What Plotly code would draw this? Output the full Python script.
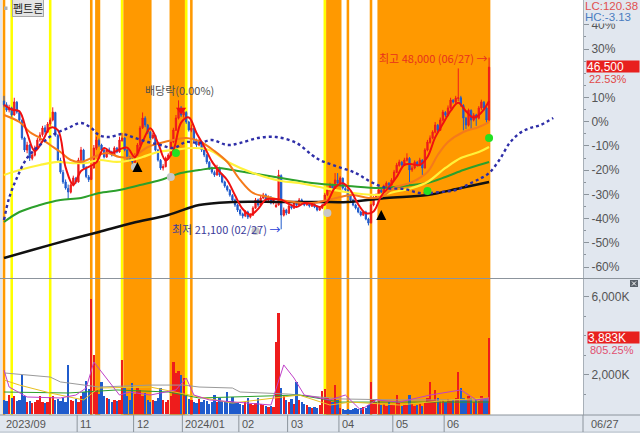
import plotly.graph_objects as go

# ---------------- data ----------------
BASE = 37950  # 0% reference price (46,500 = +22.53%)

# trading-day index: 0 = 2023-09-14 ... 189 = 2024-06-27
month_labels = ["2023/09", "11", "12", "2024/01", "02", "03", "04", "05", "06"]
month_start_idx = [0, 29, 51, 70, 92, 111, 131, 152, 172]
last_date_label = "06/27"

open_ = [
    41200, 40600, 39800, 40100, 39000, 41000, 39400, 38200, 35400, 33500,
    34300, 32200, 32700, 33800, 35100, 35900, 37000, 36300, 37600, 38200,
    39400, 35800, 31900, 30000, 28500, 27500, 26900, 28000, 29100, 28500,
    31900, 33500, 30700, 29300, 28900, 30700, 33800, 35000, 34300, 33500,
    32400, 33500, 33200, 32700, 33800, 33200, 35000, 35400, 33500, 32300,
    31900, 31600, 32700, 34300, 37000, 38500, 37400, 36300, 35400, 35800,
    33500, 31900, 30700, 30900, 32200, 32700, 34800, 36600, 38500, 40100,
    39000, 39400, 37900, 36600, 36900, 35000, 34300, 34700, 33500, 32700,
    31600, 30700, 30000, 29600, 30700, 29600, 28500, 27800, 27200, 26400,
    25700, 24900, 24100, 23500, 23200, 23800, 23000, 23300, 24400, 25700,
    24900, 26000, 26500, 25700, 26100, 25200, 24600, 24900, 29500, 23300,
    24100, 23600, 24700, 24400, 25200, 24900, 25700, 25300, 24900, 25200,
    24700, 25000, 24600, 24100, 24400, 24900, 26500, 27200, 28000, 27500,
    28800, 28300, 29100, 27500, 27200, 26300, 25700, 24900, 24400, 23800,
    23300, 23800, 22700, 22100, 24900, 26000, 26500, 27200, 26900, 27800,
    28300, 28000, 28800, 30000, 31100, 31600, 31100, 31900, 32200, 30400,
    30700, 31600, 31100, 31900, 30700, 33500, 34700, 35400, 36300, 37400,
    36600, 38200, 39400, 38900, 40100, 41300, 41000, 41600, 41700, 40500,
    38500, 37400, 39700, 38200, 39000, 38500, 40100, 41000, 40100, 38200,
]
high = [
    42000, 41000, 40600, 40300, 41700, 41200, 39600, 38300, 35600, 34800,
    34400, 33300, 34200, 35400, 36300, 37300, 37400, 37900, 38600, 40200,
    39500, 36000, 32300, 30400, 28900, 28100, 28300, 29500, 29300, 32300,
    34000, 33700, 31000, 29600, 31000, 34300, 35600, 35300, 34500, 33700,
    33800, 33900, 33400, 34100, 34000, 35600, 36200, 35500, 33700, 32600,
    32200, 33000, 34600, 37300, 39400, 38800, 37600, 36500, 36200, 35900,
    33700, 32100, 31300, 32500, 33000, 35000, 37000, 39000, 41300, 40400,
    39900, 39600, 38100, 37500, 37000, 35300, 35200, 34900, 33800, 32900,
    31800, 30900, 30300, 31200, 30900, 29800, 28700, 28000, 27400, 26600,
    25900, 25100, 24300, 23700, 24100, 24000, 23600, 24700, 26000, 25900,
    26300, 26800, 26700, 26400, 26300, 25900, 25200, 30400, 29700, 24500,
    24300, 25000, 24900, 25500, 25400, 26000, 25900, 25500, 25500, 25400,
    25300, 25200, 24800, 24700, 25100, 26800, 27500, 28400, 28200, 29900,
    29900, 29400, 29200, 27800, 27400, 26500, 25900, 25100, 24600, 24000,
    24000, 24000, 22900, 25100, 26300, 26700, 27500, 27400, 28100, 28600,
    28500, 29100, 30400, 31500, 32000, 31800, 32300, 33000, 32400, 31000,
    31900, 31800, 32300, 32100, 33800, 35100, 35800, 36600, 37900, 37600,
    38600, 39800, 39600, 40500, 41700, 41500, 42000, 46300, 42000, 40700,
    38700, 40000, 39900, 39300, 39200, 40400, 41400, 41200, 40300, 48000,
]
low = [
    40200, 39500, 39400, 38700, 38900, 39200, 37900, 35100, 33200, 33000,
    31800, 31900, 32500, 33600, 34800, 35600, 36000, 36200, 37300, 38000,
    35600, 31600, 29800, 28200, 27300, 25700, 26700, 27800, 28200, 28400,
    31600, 30500, 29100, 28500, 28800, 30600, 33500, 34000, 33200, 32200,
    32300, 32900, 32500, 32600, 33000, 33100, 34800, 33300, 32000, 31700,
    31300, 31500, 32600, 34200, 36800, 37100, 36000, 35100, 35200, 33300,
    31700, 30400, 30300, 30800, 32000, 32600, 34600, 36500, 38300, 38700,
    38600, 37600, 36400, 36300, 34800, 34000, 34100, 33200, 32400, 31300,
    30400, 29800, 29300, 29500, 29300, 28300, 27600, 27000, 26200, 25400,
    24600, 23800, 23200, 22800, 23000, 22700, 22800, 23200, 24300, 24600,
    24800, 25800, 25400, 25500, 25000, 25000, 24500, 24800, 21100, 23100,
    23300, 23500, 24200, 24300, 24600, 24800, 25100, 24700, 24800, 24500,
    24600, 24400, 23900, 24000, 24300, 24800, 26300, 27000, 27300, 27400,
    28200, 28100, 27300, 27000, 26100, 25500, 24700, 24200, 23600, 23100,
    23200, 22500, 21700, 22000, 24700, 25700, 26300, 26700, 26800, 27600,
    27800, 27900, 28700, 29900, 30900, 30900, 31000, 31700, 28000, 30100,
    30500, 30900, 31000, 29600, 30600, 33300, 34500, 35200, 36100, 36300,
    36500, 38000, 38700, 38800, 39900, 40800, 40800, 41200, 40300, 36600,
    36800, 37200, 36800, 38000, 37300, 38300, 39800, 39700, 37800, 38000,
]
close = [
    40570, 39780, 40100, 39000, 41050, 39470, 38220, 35400, 33520, 34300,
    32270, 32730, 33840, 35080, 35870, 36960, 36340, 37590, 38220, 39470,
    35870, 31950, 30070, 28500, 27560, 26940, 28040, 29140, 28500, 31950,
    33520, 30720, 29360, 28870, 30720, 33840, 35080, 34300, 33520, 32430,
    33520, 33200, 32730, 33840, 33200, 35080, 35400, 33520, 32270, 31950,
    31640, 32730, 34300, 36960, 38530, 37430, 36340, 35400, 35870, 33520,
    31950, 30700, 30920, 32270, 32730, 34770, 36650, 38530, 40100, 38990,
    39470, 37900, 36650, 36960, 35080, 34300, 34770, 33520, 32730, 31640,
    30700, 30070, 29600, 30700, 29600, 28500, 27870, 27250, 26470, 25680,
    24900, 24110, 23490, 23170, 23800, 23010, 23330, 24430, 25680, 24900,
    26000, 26470, 25680, 26160, 25210, 25680, 24900, 29600, 23330, 24110,
    23640, 24740, 24430, 25210, 24900, 25680, 25370, 24900, 25210, 24740,
    25050, 24580, 24110, 24430, 24900, 26470, 27250, 28040, 27560, 28820,
    28350, 29140, 27560, 27250, 26310, 25680, 24900, 24430, 23800, 23330,
    23800, 22700, 22070, 24900, 26000, 26470, 27250, 26940, 27870, 28350,
    28040, 28820, 30070, 31170, 31640, 31170, 31950, 32270, 30380, 30700,
    31640, 31170, 31950, 30700, 33520, 34770, 35400, 36340, 37430, 36650,
    38220, 39470, 38990, 40100, 41350, 41050, 41660, 41700, 40600, 38530,
    37430, 39780, 38220, 38990, 38530, 40100, 41050, 40100, 38220, 46500,
]
volume_k = [
    700, 650, 950, 800, 900, 650, 700, 2000, 900, 600,
    650, 550, 600, 700, 900, 600, 550, 600, 850, 900,
    700, 750, 650, 800, 600, 2500, 700, 650, 750, 600,
    900, 1100, 1700, 1300, 5900, 3000, 1250, 1000, 1650, 900,
    800, 750, 600, 700, 650, 700, 2750, 1400, 900, 700,
    1600, 1000, 1350, 1250, 900, 1050, 700, 600, 700, 650,
    800, 1350, 700, 600, 700, 900, 2650, 2100, 2200, 2000,
    1850, 900, 750, 700, 600, 550, 750, 600, 700, 650,
    500, 600, 950, 600, 800, 650, 600, 1100, 650, 850,
    600, 550, 500, 450, 600, 800, 500, 450, 550, 800,
    500, 450, 400, 350, 400, 350, 3680, 5160, 1330, 900,
    700, 600, 750, 500, 1640, 700, 600, 500, 450, 350,
    300, 350, 300, 450, 1200, 1300, 800, 700, 600, 1480,
    700, 300, 250, 200, 250, 200, 250, 300, 250, 300,
    350, 300, 450, 1640, 700, 600, 650, 450, 500, 400,
    600, 500, 450, 970, 550, 400, 500, 450, 970, 500,
    400, 450, 500, 400, 600, 800, 1640, 700, 1230, 800,
    650, 700, 600, 750, 650, 700, 800, 2150, 1330, 800,
    700, 900, 800, 600, 700, 650, 900, 750, 800, 3883,
]

# price moving averages (read at sampled days)
ma5_idx = list(range(0, 190, 3))
ma5 = [40600, 39860, 39570, 36180, 33330, 34900, 37000, 36620, 30790, 28040,
       30230, 30880, 31570, 33830, 33080, 33610, 33890, 32420, 34830, 36930,
       34620, 31870, 33470, 37810, 38620, 36180, 34080, 31730, 30130, 28780,
       26430, 24270, 23360, 24270, 25750, 25840, 25740, 25080, 24580, 25210,
       25050, 24580, 25430, 27630, 28290, 27190, 25020, 23610, 23890, 26310,
       27690, 29290, 31200, 31290, 31170, 32420, 35490, 37620, 39630, 40930,
       39580, 38590, 39380, 41190]
ma20_idx = [0, 6, 10, 14, 18, 22, 26, 30, 35, 40, 45, 50, 56, 61, 66, 71, 76, 82, 87,
            92, 97, 103, 108, 113, 120, 126, 131, 136, 142, 147, 152, 159, 165, 169,
            173, 179, 185, 189]
ma20 = [39000, 37900, 36340, 35400, 34300, 33200, 31950, 31640, 32420, 33050,
        32420, 32420, 33990, 34610, 35080, 35400, 34930, 33360, 31640, 28820,
        26780, 26150, 25680, 25370, 25210, 25680, 26150, 26470, 26000, 26150,
        27560, 28500, 30070, 32730, 34770, 36340, 37120, 37900]
ma60_idx = [0, 6, 14, 21, 26, 32, 37, 44, 50, 54, 60, 66, 74, 80, 88, 97, 108, 115,
            123, 133, 146, 152, 159, 165, 172, 178, 185, 189]
ma60 = [29600, 30380, 31170, 31640, 31480, 31480, 31950, 31640, 31950, 32420,
        33200, 33520, 33830, 33520, 31480, 29910, 28660, 28350, 27720, 26940,
        26470, 26940, 27560, 28500, 30700, 32260, 33200, 33990]
ma120_idx = [0, 6, 14, 22, 30, 37, 45, 53, 61, 69, 76, 83, 89, 96, 108, 120, 134,
             147, 159, 165, 172, 179, 185, 189]
ma120 = [22230, 23800, 24900, 25680, 26000, 26780, 27250, 28030, 28820, 29910,
         30380, 30700, 30380, 29910, 29130, 28350, 27880, 27560, 28030, 28350,
         29290, 30380, 31170, 31640]
ma240_idx = [0, 11, 25, 37, 50, 64, 76, 89, 108, 123, 134, 149, 165, 178, 189]
ma240 = [16590, 17850, 19410, 20670, 22080, 23330, 24900, 25370, 25370, 25370,
         25370, 25990, 26470, 27560, 28500]
# leading span (dotted, projected 25 days past the last candle)
span_idx = [0, 2, 5, 9, 14, 19, 25, 30, 34, 37, 41, 46, 50, 56, 61, 66, 71, 76, 81,
            87, 92, 99, 106, 114, 120, 123, 128, 137, 143, 149, 156, 162, 170, 176,
            182, 186, 189, 193, 197, 201, 205, 209, 214]
span = [22550, 26000, 29130, 32260, 34300, 35870, 36960, 37750, 36960, 35870,
        35550, 36020, 35550, 34770, 34300, 33830, 34770, 34610, 35080, 34300,
        34610, 35400, 35550, 34610, 32730, 31950, 31170, 29910, 28500, 27560,
        27400, 26780, 26940, 27250, 28350, 29130, 29910, 31950, 34610, 36180,
        36960, 37430, 38530]

# volume moving averages (K, sampled)
vma5_idx = [0, 2, 9, 22, 28, 32, 35, 39, 45, 49, 57, 67, 71, 74, 80, 104, 109, 113,
            117, 127, 133, 139, 145, 154, 166, 178, 184, 189]
vma5 = [2250, 1380, 870, 820, 970, 1330, 2660, 1990, 970, 1125, 970, 1230, 1840,
        970, 720, 460, 2510, 1840, 970, 720, 970, 200, 720, 610, 970, 1230, 720, 820]
vma20_idx = [0, 6, 18, 31, 37, 57, 76, 89, 115, 127, 135, 154, 174, 189]
vma20 = [1740, 1480, 1075, 720, 1330, 1380, 870, 560, 970, 460, 610, 460, 720, 820]
vma60_idx = [0, 25, 44, 64, 76, 115, 131, 154, 189]
vma60 = [1125, 1075, 1230, 1125, 820, 970, 610, 610, 610]
vma120_idx = [0, 18, 22, 37, 57, 70, 76, 89, 92, 111, 123, 131, 154, 189]
vma120 = [2100, 1890, 1640, 1380, 1480, 1480, 1380, 1330, 1125, 1020, 870, 770, 720, 720]

# signal markers
gray_idx, gray_price = [51, 65, 98, 126], [30850, 29290, 20820, 23640]
black_idx, black_price = [52, 147], [31640, 24110]
green_idx, green_price = [67, 165, 189], [33050, 27090, 35400]
div_idx, div_price = [69], [39780]

# background highlight bands: (first day, last day, kind)
bands = [(0, 0, "o"), (3, 3, "y"), (18, 18, "y"), (34, 34, "o"), (36, 37, "o"),
         (46, 46, "y"), (47, 57, "o"), (65, 70, "o"), (71, 71, "y"), (73, 73, "o"),
         (125, 125, "y"), (126, 131, "o"), (134, 134, "o"), (143, 143, "o"),
         (146, 189, "o")]

pct_labels = [40, 30, 10, 0, -10, -20, -30, -40, -50, -60]   # 20% is hidden under the price tag
pct_minor = [35, 25, 20, 15, 5, -5, -15, -25, -35, -45, -55, -65]
vol_ticks = [2000, 6000]
vol_tick_text = ["2,000K", "6,000K"]

# ---------------- styling ----------------
RED = "#EE1C1C"
BLUE = "#1F5BCC"
ORANGE_BG = "#FF9900"
YELLOW_BG = "#FFFF00"
PANEL = "#E1E7EF"
KFONT = "Noto Sans CJK KR, Noto Sans, sans-serif"
NFONT = "Liberation Sans, Arial, sans-serif"

XR = [-0.78, 225.6]
PR = [13459, 57019]
VR = [-51, 6905]
P_DOM = [0.3301, 1.0]
V_DOM = [0.0, 0.3277]


def xp(v):
    return (v - XR[0]) / (XR[1] - XR[0])


def py(p):
    return (415 - p) / 415


def px(p):
    return (p - 2) / 581


idx = list(range(len(close)))
up = [c >= o for o, c in zip(open_, close)]

fig = go.Figure()

# bands
shapes = []
for a, b, k in bands:
    col = ORANGE_BG if k == "o" else YELLOW_BG
    for yr in ("y domain", "y2 domain"):
        shapes.append(dict(type="rect", xref="x", yref=yr, x0=a - 0.5, x1=b + 0.5,
                           y0=0, y1=1, fillcolor=col, line=dict(width=0), layer="below"))

# candles
fig.add_trace(go.Candlestick(
    x=idx, open=open_, high=high, low=low, close=close, xaxis="x", yaxis="y",
    increasing=dict(line=dict(color=RED, width=1), fillcolor=RED),
    decreasing=dict(line=dict(color=BLUE, width=1), fillcolor=BLUE),
    whiskerwidth=0, showlegend=False, hoverinfo="skip"))

# moving averages
fig.add_trace(go.Scatter(x=ma240_idx, y=ma240, mode="lines", line=dict(color="#111111", width=2.5, shape="spline"), xaxis="x", yaxis="y"))
fig.add_trace(go.Scatter(x=ma120_idx, y=ma120, mode="lines", line=dict(color="#2CA02C", width=2, shape="spline"), xaxis="x", yaxis="y"))
fig.add_trace(go.Scatter(x=ma60_idx, y=ma60, mode="lines", line=dict(color="#FFF23A", width=2.2, shape="spline"), xaxis="x", yaxis="y"))
fig.add_trace(go.Scatter(x=ma20_idx, y=ma20, mode="lines", line=dict(color="#F57A1A", width=2, shape="spline"), xaxis="x", yaxis="y"))
fig.add_trace(go.Scatter(x=ma5_idx, y=ma5, mode="lines", line=dict(color="#F01010", width=2, shape="spline"), xaxis="x", yaxis="y"))
fig.add_trace(go.Scatter(x=span_idx, y=span, mode="lines", line=dict(color="#2E2EA8", width=2.4, dash="dot", shape="spline"), xaxis="x", yaxis="y"))

# signal markers
fig.add_trace(go.Scatter(x=gray_idx, y=gray_price, mode="markers", marker=dict(color="#C8C8C8", size=8, symbol="circle"), xaxis="x", yaxis="y"))
fig.add_trace(go.Scatter(x=black_idx, y=black_price, mode="markers", marker=dict(color="#000000", size=10, symbol="arrow-up"), xaxis="x", yaxis="y"))
fig.add_trace(go.Scatter(x=green_idx, y=green_price, mode="markers", marker=dict(color="#22E022", size=8, symbol="circle"), xaxis="x", yaxis="y"))
fig.add_trace(go.Scatter(x=div_idx, y=div_price, mode="markers", marker=dict(color="#F01010", size=9, symbol="triangle-down"), xaxis="x", yaxis="y"))

# volume
fig.add_trace(go.Bar(x=idx, y=volume_k, marker=dict(color=[RED if u else BLUE for u in up], line=dict(width=0)),
                     width=0.9, xaxis="x2", yaxis="y2", hoverinfo="skip"))
fig.add_trace(go.Scatter(x=vma120_idx, y=vma120, mode="lines", line=dict(color="#9A9A9A", width=1), xaxis="x2", yaxis="y2"))
fig.add_trace(go.Scatter(x=vma60_idx, y=vma60, mode="lines", line=dict(color="#2CA02C", width=1), xaxis="x2", yaxis="y2"))
fig.add_trace(go.Scatter(x=vma20_idx, y=vma20, mode="lines", line=dict(color="#E8C020", width=1), xaxis="x2", yaxis="y2"))
fig.add_trace(go.Scatter(x=vma5_idx, y=vma5, mode="lines", line=dict(color="#C040C8", width=1), xaxis="x2", yaxis="y2"))

# panel separator and bottom label row
LINE = "#8C949C"
shapes.append(dict(type="line", xref="paper", yref="paper", x0=-0.01, x1=1.2, y0=py(278.5), y1=py(278.5), line=dict(color=LINE, width=1)))
shapes.append(dict(type="line", xref="paper", yref="paper", x0=-0.01, x1=1.2, y0=0, y1=0, line=dict(color=LINE, width=1)))
shapes.append(dict(type="line", xref="paper", yref="paper", x0=-0.01, x1=1.2, y0=py(432), y1=py(432), line=dict(color="#B8C0C8", width=1)))
for s in month_start_idx[1:]:
    shapes.append(dict(type="line", xref="paper", yref="paper", x0=xp(s - 0.5), x1=xp(s - 0.5), y0=0, y1=py(432), line=dict(color=LINE, width=1)))
shapes.append(dict(type="line", xref="paper", yref="paper", x0=1, x1=1, y0=0, y1=py(432), line=dict(color=LINE, width=1)))
# little icon left of stock name
shapes.append(dict(type="rect", xref="paper", yref="paper", x0=px(4), x1=px(7.5), y0=py(10), y1=py(6.5), fillcolor="#B0B0B0", line=dict(width=0)))
# close icon of volume pane
shapes.append(dict(type="rect", xref="paper", yref="paper", x0=px(630), x1=px(638), y0=py(287), y1=py(280), fillcolor="#59616A", line=dict(width=0)))
shapes.append(dict(type="line", xref="paper", yref="paper", x0=px(632), x1=px(636), y0=py(285.5), y1=py(281.5), line=dict(color="white", width=1)))
shapes.append(dict(type="line", xref="paper", yref="paper", x0=px(632), x1=px(636), y0=py(281.5), y1=py(285.5), line=dict(color="white", width=1)))

ann = []
for lab, s in zip(month_labels, month_start_idx):
    ann.append(dict(text=lab, xref="x", yref="paper", x=s - 0.5, y=py(424), xanchor="left", yanchor="middle",
                    xshift=1, showarrow=False, font=dict(family=NFONT, size=11, color="#555")))
ann.append(dict(text=last_date_label, xref="paper", yref="paper", x=1, y=py(424), xanchor="left", yanchor="middle",
                xshift=6, showarrow=False, font=dict(family=NFONT, size=11, color="#555")))

# stock name
ann.append(dict(text="펩트론", xref="paper", yref="paper", x=px(12), y=py(8.5), xanchor="left", yanchor="middle",
                showarrow=False, bgcolor="#E4E4E4", bordercolor="#A8A8A8", borderwidth=1, borderpad=0,
                font=dict(family=KFONT, size=11, color="#222")))

# chart notes
ann.append(dict(text="배당락(0.00%)", xref="x", yref="y", x=div_idx[0] - 0.5, y=42900, xanchor="center", yanchor="middle",
                showarrow=False, font=dict(family=KFONT, size=11, color="#505050")))
ann.append(dict(text="최고 48,000 (06/27) →", xref="x", yref="y", x=189, y=max(high), xanchor="right", yanchor="middle",
                showarrow=False, font=dict(family=KFONT, size=11, color="#E8301E")))
ann.append(dict(text="최저 21,100 (02/27) <span style='color:#1C3CD8'>→</span>", xref="x", yref="y", x=108.4, y=min(low),
                xanchor="right", yanchor="middle", showarrow=False, font=dict(family=KFONT, size=11, color="#3A3A9A")))

# right panel labels
ann.append(dict(text="LC:120.38", xref="paper", yref="paper", x=1, xshift=1, y=py(6), xanchor="left", yanchor="middle",
                showarrow=False, borderpad=0, font=dict(family=NFONT, size=11.5, color="#E05050")))
ann.append(dict(text="HC:-3.13 ", xref="paper", yref="paper", x=1, xshift=1, y=py(17), xanchor="left", yanchor="middle",
                showarrow=False, bgcolor=PANEL, borderpad=0, font=dict(family=NFONT, size=11.5, color="#4A7CC0")))
ann.append(dict(text="46,500", xref="paper", yref="paper", x=1, xshift=3, y=py(66.5), xanchor="left", yanchor="middle",
                showarrow=False, bgcolor="#E8201E", width=52, height=11, align="left", borderpad=0,
                font=dict(family=NFONT, size=12, color="white")))
ann.append(dict(text="22.53%", xref="paper", yref="paper", x=1, xshift=5, y=py(79), xanchor="left", yanchor="middle",
                showarrow=False, borderpad=0, font=dict(family=NFONT, size=11, color="#E04848")))
ann.append(dict(text="3,883K", xref="paper", yref="paper", x=1, xshift=4, y=py(337.5), xanchor="left", yanchor="middle",
                showarrow=False, bgcolor="#E8201E", width=51, height=11, align="left", borderpad=0,
                font=dict(family=NFONT, size=12, color="white")))
ann.append(dict(text="805.25%", xref="paper", yref="paper", x=1, xshift=6, y=py(349.5), xanchor="left", yanchor="middle",
                showarrow=False, borderpad=0, font=dict(family=NFONT, size=11, color="#E05070")))

axis_font = dict(family=NFONT, size=12, color="#555")
fig.update_layout(
    width=640, height=433, margin=dict(l=2, r=57, t=0, b=18, autoexpand=False),
    paper_bgcolor=PANEL, plot_bgcolor="white", showlegend=False, bargap=0,
    xaxis=dict(range=XR, domain=[0, 1], anchor="y", showticklabels=False, showgrid=False, zeroline=False,
               ticks="", rangeslider=dict(visible=False), fixedrange=True),
    xaxis2=dict(range=XR, domain=[0, 1], anchor="y2", matches="x", showticklabels=False, showgrid=False,
                zeroline=False, ticks=""),
    yaxis=dict(domain=P_DOM, range=PR, side="right", showgrid=False, zeroline=False,
               tickvals=[BASE * (1 + p / 100) for p in pct_labels], ticktext=[f"{p}%" for p in pct_labels],
               ticks="outside", ticklen=5, tickcolor="#8C949C", showline=True, linecolor="#A8B0B8",
               tickfont=axis_font,
               minor=dict(tickvals=[BASE * (1 + p / 100) for p in pct_minor], ticks="outside",
                          ticklen=2, tickcolor="#8C949C")),
    yaxis2=dict(domain=V_DOM, range=VR, side="right", showgrid=False, zeroline=False,
                tickvals=vol_ticks, ticktext=vol_tick_text, ticks="outside", ticklen=5, tickcolor="#8C949C",
                showline=True, linecolor="#A8B0B8", tickfont=axis_font,
                minor=dict(tickvals=[1000, 3000, 4000, 5000], ticks="outside", ticklen=2, tickcolor="#8C949C")),
    shapes=shapes, annotations=ann,
)

fig.write_html("out.html", config={"displayModeBar": False, "staticPlot": True},
               post_script="document.body.style.margin='0';document.body.style.overflow='hidden';")
